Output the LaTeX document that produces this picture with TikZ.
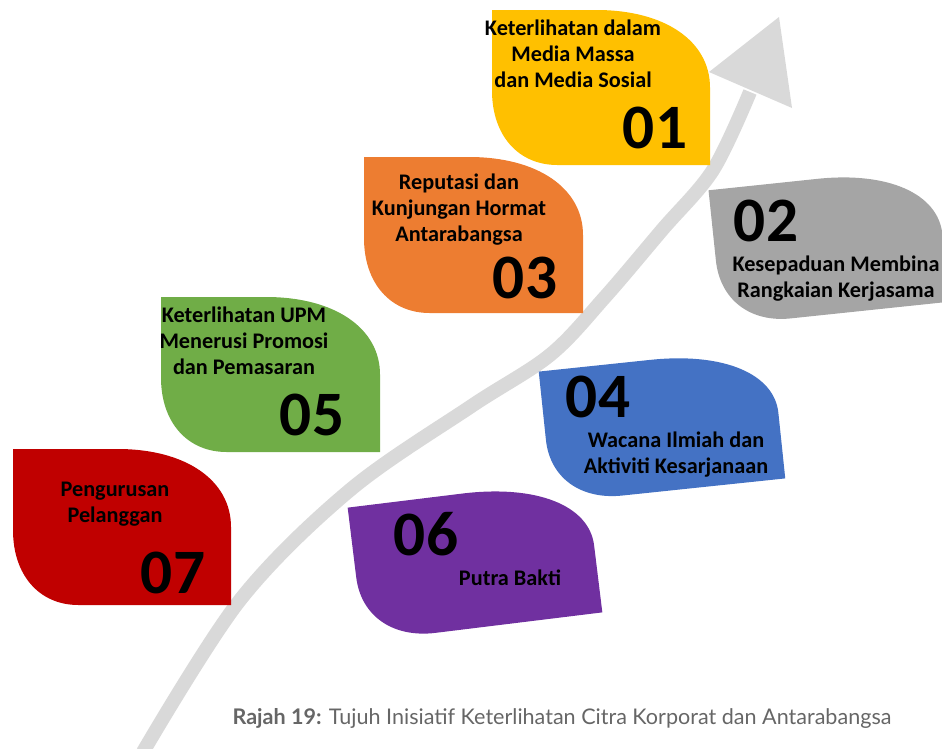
\documentclass[tikz,border=0pt]{standalone}
\usepackage{fontspec}
\setmainfont{Carlito}
\newfontfamily\capfont{Lato}
\usetikzlibrary{positioning}

\definecolor{c1}{HTML}{FFC000}
\definecolor{c2}{HTML}{A5A5A5}
\definecolor{c3}{HTML}{ED7D31}
\definecolor{c4}{HTML}{4472C4}
\definecolor{c5}{HTML}{70AD47}
\definecolor{c6}{HTML}{7030A0}
\definecolor{c7}{HTML}{C00000}
\definecolor{arrowgray}{HTML}{D9D9D9}
\definecolor{capgray}{HTML}{666666}

% leaf centred at the origin: width #2, height #3
\newcommand{\leafpath}[3]{%
  \pgfmathsetmacro{\lx}{#2/2}\pgfmathsetmacro{\ly}{#3/2}%
  \pgfmathsetmacro{\ta}{0.52*#2}\pgfmathsetmacro{\tb}{0.5*#3}%
  \pgfmathsetmacro{\ba}{0.3*#2}\pgfmathsetmacro{\bb}{0.48*#3}%
  \fill[#1] (-\lx,-\ly) -- (\lx-\ta,-\ly)
    .. controls (\lx-0.4*\ta,-\ly) and (\lx,-\ly+0.4*\tb) .. (\lx,-\ly+\tb)
    -- (\lx,\ly) -- (-\lx+\ba,\ly)
    .. controls (-\lx+0.4*\ba,\ly) and (-\lx,\ly-0.4*\bb) .. (-\lx,\ly-\bb)
    -- cycle;}

\tikzset{
  lbl/.style={font=\bfseries\fontsize{19}{22.2}\selectfont,align=center,inner sep=0pt},
  num/.style={font=\bfseries\fontsize{54}{54}\selectfont,inner sep=0pt,
    text height=34pt,text depth=0pt}
}

\begin{document}
\begin{tikzpicture}[x=0.03cm,y=-0.03cm]
  \useasboundingbox (0,0) rectangle (942,748);
  % arrow
  \coordinate (s0) at (143,752);
  \coordinate (s9) at (750,92);
  \draw[arrowgray,line width=0.42cm] plot[smooth,tension=0.55] coordinates
    {(s0) (240,600) (350,490) (470,407) (550,355) (605,297) (662,230) (713,170) (s9)};
  \fill[arrowgray] (709,72) -- (779,17) -- (792,108) -- cycle;

  % leaves
  \begin{scope}[shift={(601,87.5)}]\leafpath{c1}{218}{155}\end{scope}
  \begin{scope}[shift={(473.5,235)}]\leafpath{c3}{219}{156}\end{scope}
  \begin{scope}[shift={(270.5,374.5)}]\leafpath{c5}{219}{155}\end{scope}
  \begin{scope}[shift={(122,527)}]\leafpath{c7}{218}{156}\end{scope}
  \begin{scope}[shift={(829,246)},rotate=6]\leafpath{c2}{228}{136}\end{scope}
  \begin{scope}[shift={(662,425)},rotate=6]\leafpath{c4}{234}{132}\end{scope}
  \begin{scope}[shift={(475,560)},rotate=7]\leafpath{c6}{240}{135}\end{scope}

  % texts
  \node[lbl] (t1) at (573,54) {Keterlihatan dalam\\Media Massa\\dan Media Sosial};
  \node[num] (n1) at (655,129) {01};
  \node[num] (n2) at (766,222) {02};
  \node[lbl] (t2) at (836,279) {Kesepaduan Membina\\Rangkaian Kerjasama};
  \node[lbl] (t3) at (459,210) {Reputasi dan\\Kunjungan Hormat\\Antarabangsa};
  \node[num] (n3) at (525,279) {03};
  \node[num] (n4) at (598,398) {04};
  \node[lbl] (t4) at (676,455) {Wacana Ilmiah dan\\Aktiviti Kesarjanaan};
  \node[lbl] (t5) at (244,341) {Keterlihatan UPM\\Menerusi Promosi\\dan Pemasaran};
  \node[num] (n5) at (312,416) {05};
  \node[num] (n6) at (426,536) {06};
  \node[lbl] (t6) at (510,578) {Putra Bakti};
  \node[lbl] (t7) at (115,504) {Pengurusan\\Pelanggan};
  \node[num] (n7) at (173,574) {07};

  % caption
  \node[font=\capfont\fontsize{18.4}{22}\selectfont,text=capgray,inner sep=0pt] (cap) at (562,718)
    {{\bfseries Rajah 19:} Tujuh Inisiatif Keterlihatan Citra Korporat dan Antarabangsa};
\end{tikzpicture}
\end{document}
